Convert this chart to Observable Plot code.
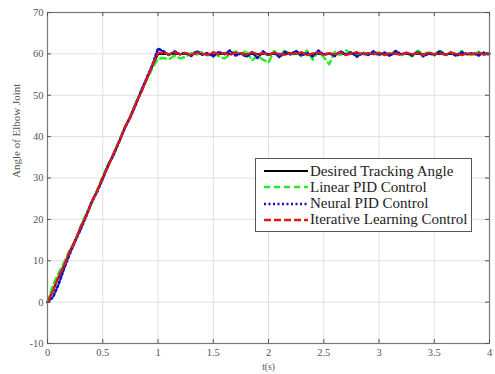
<!DOCTYPE html>
<html><head><meta charset="utf-8">
<script src="https://cdn.jsdelivr.net/npm/d3@7"></script>
<script src="https://cdn.jsdelivr.net/npm/@observablehq/plot@0.6"></script>
<style>
body{margin:0;background:#fff;}
#wrap{position:relative;width:495px;height:374px;}
#legend{position:absolute;left:255px;top:158px;width:217px;height:74px;box-sizing:border-box;border:1px solid #555;background:#fff;font-family:"Liberation Serif","Times New Roman",serif;font-size:15px;color:#222;}
.row{position:absolute;left:8px;height:16px;display:flex;align-items:center;white-space:nowrap;}
.row svg{margin-right:2px;}
</style>
</head><body>
<div id="wrap"></div>
<script>
const time = [0,0.05,0.1,0.15,0.2,0.25,0.3,0.35,0.4,0.45,
0.5,0.55,0.6,0.65,0.7,0.75,0.8,0.85,0.9,0.95,
1,1.05,1.1,1.15,1.2,1.25,1.3,1.35,1.4,1.45,
1.5,1.55,1.6,1.65,1.7,1.75,1.8,1.85,1.9,1.95,
2,2.05,2.1,2.15,2.2,2.25,2.3,2.35,2.4,2.45,
2.5,2.55,2.6,2.65,2.7,2.75,2.8,2.85,2.9,2.95,
3,3.05,3.1,3.15,3.2,3.25,3.3,3.35,3.4,3.45,
3.5,3.55,3.6,3.65,3.7,3.75,3.8,3.85,3.9,3.95,
4];
const desiredT = [0,1,4];
const desiredV = [0,60,60];
const linearPID = [0,4.2,7.0,9.6,12.5,14.6,18.3,21.4,23.8,27.2,
30.3,33.4,35.8,39.2,42.3,44.8,48.1,51.3,53.8,56.6,
58.8,59.0,58.7,59.6,58.9,59.3,60.2,59.8,60.5,59.6,
60.3,59.4,58.9,59.7,60.6,59.9,60.8,58.4,59.5,58.6,
57.9,60.7,59.6,60.9,59.8,60.3,59.4,60.8,58.6,60.6,
59.2,57.5,60.5,59.7,60.9,60.1,59.5,60.4,59.8,60.2,
59.6,60.3,59.9,60.6,59.7,60.2,59.4,60.8,59.9,60.3,
59.6,60.9,59.8,60.4,59.5,60.7,60.0,59.6,60.5,59.8,
60.3];
const neuralPID = [0,1.2,4.3,8.1,11.6,14.7,17.6,20.8,24.3,26.7,
29.8,33.2,35.7,38.8,42.2,44.7,47.8,51.2,54.3,57.4,
61.3,60.6,59.7,60.6,59.9,60.3,59.5,60.7,59.8,60.2,
59.4,60.5,59.9,60.8,59.6,60.1,59.3,60.4,59.0,60.6,
59.7,60.3,59.2,60.5,59.9,60.7,59.6,60.2,59.4,60.8,
59.8,60.1,59.5,60.6,59.9,60.4,59.3,60.2,59.7,60.6,
59.8,60.3,59.5,60.7,59.9,60.2,59.6,60.5,59.4,60.1,
59.8,60.6,59.7,60.3,59.5,60.4,59.9,60.2,59.6,60.3,
59.8];
const ilc = [0,2.7,6.2,8.8,12.3,14.8,18.2,20.7,24.2,26.9,
30.2,32.8,36.1,38.9,42.2,44.8,48.2,50.8,54.1,57.2,
60.2,60.3,59.8,60.4,59.9,60.2,59.7,60.3,60.0,59.8,
60.4,59.9,60.2,59.7,60.3,60.1,59.8,60.4,59.9,60.2,
59.7,60.3,60.0,59.8,60.2,59.9,60.4,59.7,60.1,60.3,
59.8,60.2,59.9,60.3,59.7,60.1,60.4,59.8,60.2,59.9,
60.3,59.7,60.2,60.0,59.8,60.3,59.9,60.2,59.7,60.4,
59.9,60.1,59.8,60.3,60.0,59.7,60.2,59.9,60.3,59.8,
60.1];
const xTicks = [0,0.5,1,1.5,2,2.5,3,3.5,4];
const yTicks = [-10,0,10,20,30,40,50,60,70];
const seriesNames = ["Desired Tracking Angle","Linear PID Control","Neural PID Control","Iterative Learning Control"];
const seriesColors = ["#000000","#22ee22","#1010c0","#e01818"];

const W = 495, H = 374, mT = 12, mB = 31, mL = 47, mR = 6;
const innerH = H - mT - mB, innerW = W - mL - mR;
const desired = desiredT.map((t,i)=>({t, v: desiredV[i]}));
const mk = arr => time.map((t,i)=>({t, v: arr[i]}));
const serif = "Liberation Serif, Times New Roman, serif";

const plot = Plot.plot({
  width: W, height: H,
  marginTop: mT, marginBottom: mB, marginLeft: mL, marginRight: mR,
  x: {domain: [0,4]},
  y: {domain: [-10,70]},
  style: {background: "#fff", fontFamily: serif},
  marks: [
    Plot.gridX(xTicks, {stroke: "#d8d8d8", strokeOpacity: 1, strokeWidth: 0.8}),
    Plot.gridY(yTicks, {stroke: "#d8d8d8", strokeOpacity: 1, strokeWidth: 0.8}),
    Plot.line(desired, {x: "t", y: "v", stroke: seriesColors[0], strokeWidth: 2}),
    Plot.line(mk(linearPID), {x: "t", y: "v", stroke: seriesColors[1], strokeWidth: 2.4, strokeDasharray: "6,4"}),
    Plot.line(mk(neuralPID), {x: "t", y: "v", stroke: seriesColors[2], strokeWidth: 2.6, strokeDasharray: "2,2.5"}),
    Plot.line(mk(ilc), {x: "t", y: "v", stroke: seriesColors[3], strokeWidth: 2.4, strokeDasharray: "7,3"}),
    Plot.frame({stroke: "#777", strokeWidth: 1.2}),
    Plot.tickX(xTicks, {x: d=>d, stroke: "#555", insetTop: innerH - 4}),
    Plot.tickX(xTicks, {x: d=>d, stroke: "#555", insetBottom: innerH - 4}),
    Plot.tickY(yTicks, {y: d=>d, stroke: "#555", insetRight: innerW - 4}),
    Plot.tickY(yTicks, {y: d=>d, stroke: "#555", insetLeft: innerW - 4}),
    Plot.axisX(xTicks, {tickSize: 0, tickPadding: 5, tickFormat: d=>String(d), fontSize: 10.5, fill: "#555", label: null}),
    Plot.axisY(yTicks, {tickSize: 0, tickPadding: 4, tickFormat: d=>String(d), fontSize: 10.5, fill: "#555", label: null}),
    Plot.text(["t(s)"], {frameAnchor: "bottom", dy: 23, text: d=>d, fontSize: 9.5, fill: "#555", lineAnchor: "middle"}),
    Plot.text(["Angle of Elbow Joint"], {frameAnchor: "left", dx: -31, rotate: -90, text: d=>d, fontSize: 11, fill: "#555", lineAnchor: "middle"})
  ]
});
const wrap = document.getElementById("wrap");
wrap.appendChild(plot);

const leg = document.createElement("div");
leg.id = "legend";
const dashes = [null, "6,4", "2,2.5", "7,3"];
seriesNames.forEach((name, i) => {
  const row = document.createElement("div");
  row.className = "row";
  row.style.top = (4 + i * 16.3) + "px";
  const ns = "http://www.w3.org/2000/svg";
  const s = document.createElementNS(ns, "svg");
  s.setAttribute("width", 44); s.setAttribute("height", 8);
  const l = document.createElementNS(ns, "line");
  l.setAttribute("x1", 0); l.setAttribute("x2", 44); l.setAttribute("y1", 4); l.setAttribute("y2", 4);
  l.setAttribute("stroke", seriesColors[i]);
  l.setAttribute("stroke-width", i === 0 ? 2 : 2.6);
  if (dashes[i]) l.setAttribute("stroke-dasharray", dashes[i]);
  s.appendChild(l);
  row.appendChild(s);
  const sp = document.createElement("span");
  sp.textContent = name;
  row.appendChild(sp);
  leg.appendChild(row);
});
wrap.appendChild(leg);
</script>
</body></html>
